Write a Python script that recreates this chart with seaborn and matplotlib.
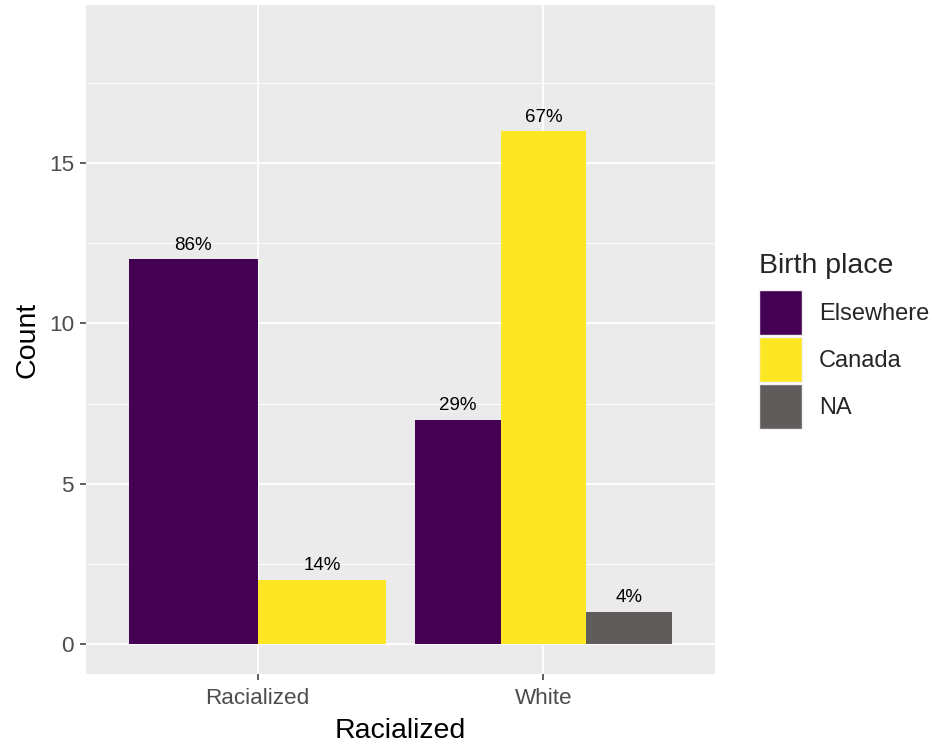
import matplotlib
matplotlib.use("Agg")
import matplotlib.pyplot as plt
import seaborn as sns
import pandas as pd
from matplotlib.patches import Patch

race = ["Racialized", "Racialized", "White", "White", "White"]
birth = ["Elsewhere", "Canada", "Elsewhere", "Canada", "NA"]
count = [12, 2, 7, 16, 1]
pct = ["86%", "14%", "29%", "67%", "4%"]
groups = ["Racialized", "White"]
levels = ["Elsewhere", "Canada", "NA"]
palette = {"Elsewhere": "#440154", "Canada": "#FDE725", "NA": "#605C5C"}

df = pd.DataFrame({"race": race, "birth": birth, "count": count, "pct": pct})

sns.set_theme(style="darkgrid")
plt.rcParams['font.family'] = ['Liberation Sans', 'DejaVu Sans']

fig = plt.figure(figsize=(9.32, 7.44), dpi=100)
ax = fig.add_axes([86/932, 1-674/744, (715-86)/932, (674-5)/744])
ax.set_facecolor("#EBEBEB")

# dodge positions (ggplot position_dodge, width 0.9 per group)
pos, widths = [], []
for _, r in df.iterrows():
    gi = groups.index(r["race"])
    sub = df[df["race"] == r["race"]]
    n = len(sub)
    i = list(sub["birth"]).index(r["birth"])
    w = 0.9 / n
    pos.append(gi - 0.45 + (i + 0.5) * w)
    widths.append(w)
df["pos"] = pos
df["w"] = widths

for _, r in df.iterrows():
    ax.bar(r["pos"], r["count"], width=r["w"], color=palette[r["birth"]],
           linewidth=0, zorder=3)
    ax.annotate(r["pct"], (r["pos"], r["count"]), xytext=(0, 7),
                textcoords="offset points", ha="center", va="baseline",
                fontsize=13.5, color="black", zorder=4)

ax.set_xlim(-0.6, 1.6)
ax.set_ylim(-0.94, 19.94)
ax.set_xticks(range(len(groups)))
ax.set_xticklabels(groups)
ax.set_yticks([0, 5, 10, 15])
ax.set_yticks([2.5, 7.5, 12.5, 17.5], minor=True)
ax.grid(which="major", color="white", linewidth=1.3, zorder=0)
ax.grid(which="minor", axis="y", color="white", linewidth=0.6, zorder=0)
ax.grid(which="minor", axis="x", visible=False)
ax.set_axisbelow(True)
for s in ax.spines.values():
    s.set_visible(False)
ax.tick_params(axis="both", which="major", bottom=True, left=True, length=4.3,
               width=1.1, color="#333333", labelsize=16.2, labelcolor="#4D4D4D", pad=4.3)
ax.tick_params(axis="x", which="major", pad=6)
ax.tick_params(axis="both", which="minor", length=0)
ax.set_xlabel("Racialized", fontsize=20.5, color="black", labelpad=6)
ax.set_ylabel("Count", fontsize=20.5, color="black", labelpad=6)

handles = [Patch(facecolor=palette[l], edgecolor="#F2F2F2", linewidth=1) for l in levels]
leg = fig.legend(handles, levels, title="Birth place", loc="center left",
                 bbox_to_anchor=(759/932, 1-341/744), frameon=False, fontsize=17,
                 title_fontsize=20.5, handlelength=1.82, handleheight=2.55,
                 labelspacing=0.09, handletextpad=0.72, borderpad=0, borderaxespad=0)
leg._legend_box.align = "left"
leg._legend_box.sep = 8

fig.savefig("out.png", dpi=100, facecolor="white")
